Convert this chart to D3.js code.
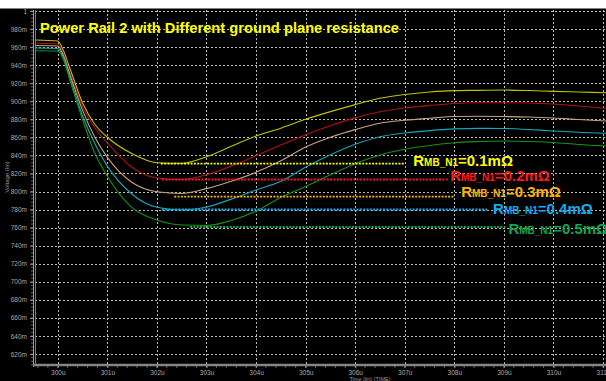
<!DOCTYPE html>
<html>
<head>
<meta charset="utf-8">
<script src="https://cdn.jsdelivr.net/npm/d3@7"></script>
<style>
  html, body { margin: 0; padding: 0; background: #fff; }
  svg { display: block; }
</style>
</head>
<body>
<svg id="chart" width="606" height="381"></svg>
<script>
// ---- data (time in µs, voltage in V) ----
const times = [299.55, 300.0, 300.1, 300.25, 300.5, 300.75, 301.0, 301.5, 302.0, 302.5, 303.0, 303.5, 304.0, 304.5, 305.0, 305.5, 306.0, 306.5, 307.0, 307.5, 308.0, 308.5, 309.0, 309.5, 310.0, 310.5, 311.06];
const rail01 = [0.9679, 0.9668, 0.9579, 0.9354, 0.8981, 0.8743, 0.8601, 0.8418, 0.8319, 0.8313, 0.8386, 0.8501, 0.8616, 0.8702, 0.8800, 0.8885, 0.8963, 0.9033, 0.9075, 0.9103, 0.9118, 0.9121, 0.9124, 0.9119, 0.9110, 0.9103, 0.9095];
const rail02 = [0.9642, 0.9634, 0.9546, 0.9313, 0.8942, 0.8704, 0.8538, 0.8266, 0.8150, 0.8133, 0.8185, 0.8283, 0.8396, 0.8515, 0.8630, 0.8729, 0.8816, 0.8884, 0.8926, 0.8954, 0.8976, 0.8984, 0.8984, 0.8981, 0.8970, 0.8947, 0.8922];
const rail03 = [0.9618, 0.9612, 0.9524, 0.9284, 0.8899, 0.8598, 0.8378, 0.8100, 0.7998, 0.7978, 0.8032, 0.8113, 0.8213, 0.8340, 0.8493, 0.8602, 0.8686, 0.8756, 0.8789, 0.8812, 0.8832, 0.8834, 0.8831, 0.8826, 0.8815, 0.8798, 0.8781];
const rail04 = [0.9590, 0.9585, 0.9501, 0.9248, 0.8840, 0.8526, 0.8281, 0.7970, 0.7825, 0.7795, 0.7828, 0.7916, 0.8017, 0.8113, 0.8269, 0.8407, 0.8524, 0.8607, 0.8648, 0.8675, 0.8694, 0.8700, 0.8699, 0.8687, 0.8671, 0.8656, 0.8645];
const rail05 = [0.9560, 0.9557, 0.9479, 0.9221, 0.8795, 0.8421, 0.8170, 0.7821, 0.7684, 0.7629, 0.7624, 0.7679, 0.7784, 0.7934, 0.8056, 0.8185, 0.8308, 0.8405, 0.8469, 0.8510, 0.8541, 0.8554, 0.8560, 0.8554, 0.8543, 0.8521, 0.8504];

const resistances = ["0.1mΩ", "0.2mΩ", "0.3mΩ", "0.4mΩ", "0.5mΩ"];
const minLevels = [0.8310, 0.8133, 0.7943, 0.7801, 0.7607];
const markStart = [302.08, 302.10, 302.35, 302.10, 302.67];
const markEnd   = [307.01, 307.875, 307.996, 308.66, 309.03];

const yTickValues = [0.62, 0.64, 0.66, 0.68, 0.70, 0.72, 0.74, 0.76, 0.78, 0.80, 0.82, 0.84, 0.86, 0.88, 0.90, 0.92, 0.94, 0.96, 0.98, 1.0];
const yTickLabels = ["620m", "640m", "660m", "680m", "700m", "720m", "740m", "760m", "780m", "800m", "820m", "840m", "860m", "880m", "900m", "920m", "940m", "960m", "980m", "1"];
const xTickValues = [300, 301, 302, 303, 304, 305, 306, 307, 308, 309, 310, 311];
const xTickLabels = ["300u", "301u", "302u", "303u", "304u", "305u", "306u", "307u", "308u", "309u", "310u", "311u"];

const titleText = "Power Rail 2 with Different ground plane resistance";
const yTitle = "Voltage (lin)";
const xTitle = "Time (lin) (TIME)";

// ---- styles ----
const lineColors  = ["#c2c200", "#b01010", "#c8a282", "#12a8b8", "#149414"];
const labelColors = ["#ffff00", "#ff1a1a", "#ffb400", "#12aef0", "#10a850"];
const labelDx = [8, 2, 7, 6, 3];
const labelDy = [2.2, 1.5, 0.6, 4.5, 7.5];

const svg = d3.select("#chart");
const W = 606, H = 381;
const plotLeft = 35, plotRight = 606, plotTop = 9, plotBottom = 365;

const x = d3.scaleLinear().domain([299.54, 311.06]).range([plotLeft, plotRight]);
const y = d3.scaleLinear().domain([0.62, 1.0]).range([354, 11]);

// background
svg.append("rect").attr("x", 0).attr("y", 0).attr("width", W).attr("height", 8).attr("fill", "#ffffff");
svg.append("rect").attr("x", 0).attr("y", 8).attr("width", W).attr("height", H - 8).attr("fill", "#000000");
svg.append("line").attr("x1", 0).attr("x2", W).attr("y1", 8.5).attr("y2", 8.5).attr("stroke", "#8a7a82").attr("stroke-width", 1);

// grid
const grid = svg.append("g").attr("stroke", "#b8b8b8").attr("stroke-width", 1).attr("stroke-dasharray", "2,2");
grid.selectAll("line.h").data(yTickValues).join("line")
  .attr("x1", plotLeft).attr("x2", plotRight)
  .attr("y1", d => Math.round(y(d)) + 0.5).attr("y2", d => Math.round(y(d)) + 0.5);
grid.selectAll("line.v").data(xTickValues).join("line")
  .attr("y1", plotTop + 1).attr("y2", plotBottom - 1)
  .attr("x1", d => Math.round(x(d)) + 0.5).attr("x2", d => Math.round(x(d)) + 0.5);

// y axis
const yAxis = d3.axisLeft(y).tickValues(yTickValues)
  .tickFormat((d, i) => yTickLabels[i]).tickSize(3).tickPadding(3);
const gy = svg.append("g").attr("transform", `translate(${plotLeft - 2},0)`).call(yAxis);
gy.select(".domain").remove();
gy.selectAll(".tick line").attr("stroke", "#9a9a9a");
gy.selectAll(".tick text").attr("fill", "#a8a8a8").attr("font-size", "6.5px")
  .attr("font-family", "Liberation Sans, Arial, sans-serif");
// minor y ticks
const yMinor = d3.range(0.608, 1.0001, 0.004);
svg.append("g").selectAll("line").data(yMinor).join("line")
  .attr("x1", plotLeft - 4).attr("x2", plotLeft - 2)
  .attr("y1", d => y(d)).attr("y2", d => y(d))
  .attr("stroke", "#8a8a8a").attr("stroke-width", 0.7);
svg.append("line").attr("x1", plotLeft - 1.5).attr("x2", plotLeft - 1.5).attr("y1", plotTop + 1).attr("y2", plotBottom + 2)
  .attr("stroke", "#a0a0a0").attr("stroke-width", 1);
svg.append("line").attr("x1", plotLeft + 0.5).attr("x2", plotLeft + 0.5).attr("y1", plotTop + 1).attr("y2", plotBottom)
  .attr("stroke", "#7a7a7a").attr("stroke-width", 1);

// x axis
const xAxis = d3.axisBottom(x).tickValues(xTickValues)
  .tickFormat((d, i) => xTickLabels[i]).tickSize(2).tickPadding(2);
const gx = svg.append("g").attr("transform", `translate(0,${plotBottom + 1})`).call(xAxis);
gx.select(".domain").remove();
gx.selectAll(".tick line").attr("stroke", "#9a9a9a");
gx.selectAll(".tick text").attr("fill", "#a8a8a8").attr("font-size", "6.5px")
  .attr("font-family", "Liberation Sans, Arial, sans-serif");
const xMinor = d3.range(299.6, 311.06, 0.2);
svg.append("g").selectAll("line").data(xMinor).join("line")
  .attr("x1", d => x(d)).attr("x2", d => x(d))
  .attr("y1", plotBottom + 1).attr("y2", plotBottom + 3)
  .attr("stroke", "#8a8a8a").attr("stroke-width", 0.7);
svg.append("line").attr("x1", plotLeft - 2).attr("x2", plotRight).attr("y1", plotBottom).attr("y2", plotBottom)
  .attr("stroke", "#858585").attr("stroke-width", 2.5);

// axis titles
svg.append("text").attr("transform", `translate(9,${177}) rotate(-90)`)
  .attr("text-anchor", "middle").attr("fill", "#9a9a9a").attr("font-size", "6px")
  .attr("font-family", "Liberation Sans, Arial, sans-serif").text(yTitle);
svg.append("text").attr("x", 370).attr("y", 381)
  .attr("text-anchor", "middle").attr("fill", "#9a9a9a").attr("font-size", "5.5px")
  .attr("font-family", "Liberation Sans, Arial, sans-serif").text(xTitle);

// curves
const series = [rail01, rail02, rail03, rail04, rail05];
const line = d3.line().x(d => x(d[0])).y(d => y(d[1])).curve(d3.curveMonotoneX);
svg.append("g").selectAll("path").data(series).join("path")
  .attr("d", s => line(times.map((t, i) => [t, s[i]])))
  .attr("fill", "none")
  .attr("stroke", (d, i) => lineColors[i])
  .attr("stroke-width", 1.1);

// min markers
svg.append("g").selectAll("line").data(minLevels).join("line")
  .attr("x1", (d, i) => x(markStart[i])).attr("x2", (d, i) => x(markEnd[i]))
  .attr("y1", d => y(d)).attr("y2", d => y(d))
  .attr("stroke", (d, i) => labelColors[i])
  .attr("stroke-width", 1.8).attr("stroke-dasharray", "2,1.3");

// labels
const lbl = svg.append("g").selectAll("text").data(resistances).join("text")
  .attr("x", (d, i) => x(markEnd[i]) + labelDx[i])
  .attr("y", (d, i) => y(minLevels[i]) + labelDy[i])
  .attr("fill", (d, i) => labelColors[i])
  .attr("font-family", "Liberation Sans, Arial, sans-serif")
  .attr("font-weight", "bold");
lbl.append("tspan").attr("font-size", "15px").text("R");
lbl.append("tspan").attr("font-size", "10px").text("MB_N1");
lbl.append("tspan").attr("font-size", "15px").text(d => "=" + d);

// title
svg.append("text").attr("x", 40).attr("y", 32.7)
  .attr("fill", "#ffff00").attr("font-size", "14.5px").attr("font-weight", "bold")
  .attr("font-family", "Liberation Sans, Arial, sans-serif")
  .attr("textLength", 359).attr("lengthAdjust", "spacingAndGlyphs")
  .text(titleText);
</script>
</body>
</html>
